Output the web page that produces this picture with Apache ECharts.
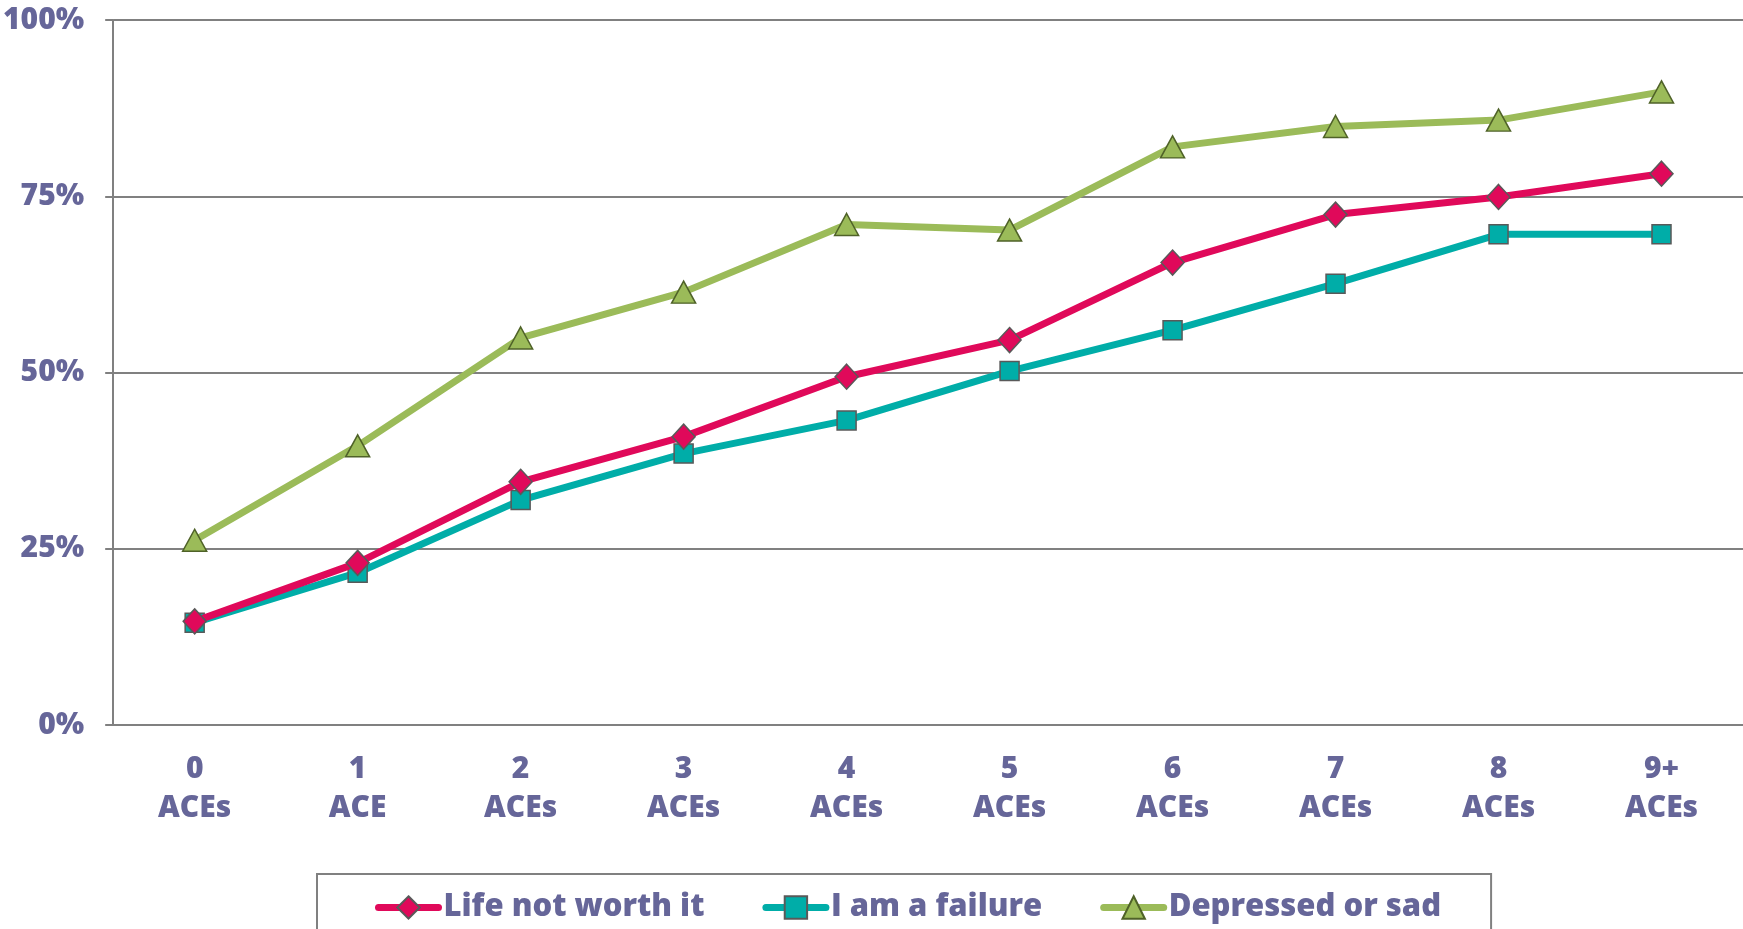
<!DOCTYPE html>
<html>
<head>
<meta charset="utf-8">
<style>
  html, body { margin: 0; padding: 0; background: #fff; }
  #main { width: 1743px; height: 929px; }
</style>
<script src="https://cdn.jsdelivr.net/npm/echarts@6/dist/echarts.min.js"></script>
</head>
<body>
<div id="main"></div>
<script>
// categories on the x axis
var categories = ["0\nACEs", "1\nACE", "2\nACEs", "3\nACEs", "4\nACEs", "5\nACEs", "6\nACEs", "7\nACEs", "8\nACEs", "9+\nACEs"];
// series values (percent)
var lifeNotWorthIt = [14.7, 23.0, 34.5, 40.9, 49.4, 54.6, 65.6, 72.4, 74.9, 78.2];
var iAmAFailure = [14.5, 21.6, 31.9, 38.5, 43.2, 50.2, 56.0, 62.6, 69.6, 69.6];
var depressedOrSad = [26.2, 39.6, 54.9, 61.4, 71.0, 70.2, 82.0, 84.9, 85.8, 89.8];
var seriesNames = ["Life not worth it", "I am a failure", "Depressed or sad"];

var textColor = "#666699";
var axisGrey = "#808080";
var fontFamily = "'Open Sans', Lato, sans-serif";

var chart = echarts.init(document.getElementById("main"));

var option = {
  animation: false,
  backgroundColor: "#fff",
  grid: {
    left: 112,
    top: 20,
    right: -7,
    bottom: 204
  },
  legend: {
    left: 317,
    top: 874,
    padding: [18, 50, 30, 58],
    borderColor: axisGrey,
    borderWidth: 2,
    itemWidth: 60,
    itemHeight: 28,
    itemGap: 58,
    data: seriesNames,
    lineStyle: { width: 7, cap: "round" },
    textStyle: {
      color: textColor,
      fontFamily: fontFamily,
      fontWeight: 800,
      fontSize: 31
    }
  },
  xAxis: {
    type: "category",
    data: categories,
    boundaryGap: true,
    axisLine: { lineStyle: { color: axisGrey, width: 2 } },
    axisTick: { length: 9, lineStyle: { color: axisGrey, width: 2 } },
    axisLabel: {
      color: textColor,
      fontFamily: fontFamily,
      fontWeight: 800,
      fontSize: 30,
      lineHeight: 39,
      margin: 25,
      interval: 0
    }
  },
  yAxis: {
    type: "value",
    min: 0,
    max: 100,
    interval: 25,
    axisLine: { show: true, lineStyle: { color: axisGrey, width: 2 } },
    axisTick: { show: true, length: 8, lineStyle: { color: axisGrey, width: 2 } },
    axisLabel: {
      color: textColor,
      fontFamily: fontFamily,
      fontWeight: 800,
      fontSize: 30,
      margin: 29,
      formatter: "{value}%"
    },
    splitLine: { show: true, lineStyle: { color: axisGrey, width: 2 } }
  },
  series: [
    {
      name: seriesNames[0],
      type: "line",
      data: lifeNotWorthIt,
      symbol: "diamond",
      symbolSize: [23, 25],
      z: 3,
      lineStyle: { color: "#E0095A", width: 7 },
      itemStyle: { color: "#E0095A", borderColor: "#595959", borderWidth: 1.5 }
    },
    {
      name: seriesNames[1],
      type: "line",
      data: iAmAFailure,
      symbol: "rect",
      symbolSize: 19,
      z: 2,
      lineStyle: { color: "#00ADA8", width: 7 },
      itemStyle: { color: "#00ADA8", borderColor: "#595959", borderWidth: 1.5 }
    },
    {
      name: seriesNames[2],
      type: "line",
      data: depressedOrSad,
      symbol: "triangle",
      symbolSize: [24, 22],
      z: 1,
      lineStyle: { color: "#9BBB59", width: 7 },
      itemStyle: { color: "#9BBB59", borderColor: "#4F6228", borderWidth: 1.5 }
    }
  ]
};

chart.setOption(option);
</script>
</body>
</html>
